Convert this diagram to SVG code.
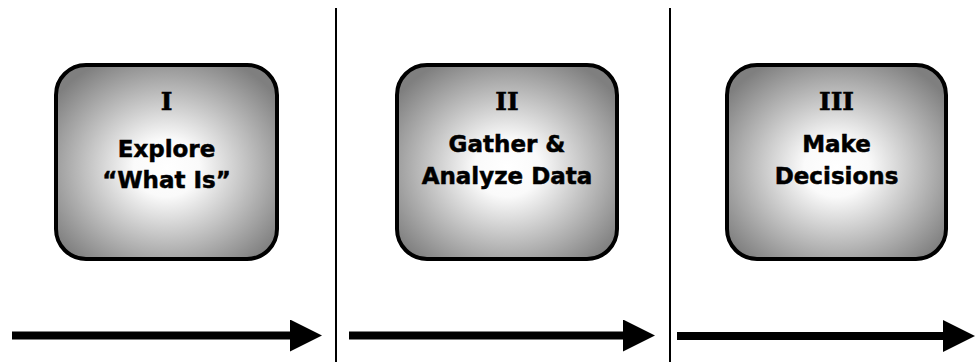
<svg xmlns="http://www.w3.org/2000/svg" width="976" height="362" viewBox="0 0 976 362">
  <defs>
    <radialGradient id="boxFill" cx="0.5" cy="0.53" r="0.62">
      <stop offset="0" stop-color="#ffffff"/>
      <stop offset="0.24" stop-color="#fafafa"/>
      <stop offset="1" stop-color="#7f7f7f"/>
    </radialGradient>
    <marker id="head" markerUnits="userSpaceOnUse" markerWidth="33" markerHeight="33" refX="0" refY="16" orient="auto" viewBox="0 0 33 33">
      <path d="M0,0 L32,16 L0,32 Z" fill="#000"/>
    </marker>
  </defs>
  <style>
    .box { fill: url(#boxFill); stroke: #000; stroke-width: 4; }
    .num { font-family: "DejaVu Serif", serif; font-weight: bold; font-size: 25px; text-anchor: middle; fill: #000; stroke: #000; stroke-width: 0.5; }
    .lbl { font-family: "DejaVu Sans", Verdana, sans-serif; font-weight: bold; font-size: 23px; text-anchor: middle; fill: #000; stroke: #000; stroke-width: 0.5; }
    .divider { stroke: #000; stroke-width: 2; }
    .arrow { stroke: #000; stroke-width: 8; fill: none; marker-end: url(#head); }
  </style>

  <rect width="976" height="362" fill="#fff"/>

  <!-- phase separators -->
  <line class="divider" x1="336" y1="8" x2="336" y2="362"/>
  <line class="divider" x1="670" y1="8" x2="670" y2="362"/>

  <g id="phase-1">
    <rect class="box" x="56" y="65" width="221" height="194" rx="30" ry="30"/>
    <text class="num" x="166.5" y="110">I</text>
    <text class="lbl" x="166.5" y="157">Explore</text>
    <text class="lbl" x="166.5" y="188">“What Is”</text>
  </g>

  <g id="phase-2">
    <rect class="box" x="397" y="65" width="220" height="194" rx="30" ry="30"/>
    <text class="num" x="507" y="110">II</text>
    <text class="lbl" x="507" y="152">Gather &amp;</text>
    <text class="lbl" x="507" y="184">Analyze Data</text>
  </g>

  <g id="phase-3">
    <rect class="box" x="727" y="65" width="219" height="194" rx="30" ry="30"/>
    <text class="num" x="836.5" y="110">III</text>
    <text class="lbl" x="836.5" y="152">Make</text>
    <text class="lbl" x="836.5" y="184">Decisions</text>
  </g>

  <g id="connectors">
    <line class="arrow" x1="12" y1="335.5" x2="290" y2="335.5"/>
    <line class="arrow" x1="349" y1="335.5" x2="623" y2="335.5"/>
    <line class="arrow" x1="677" y1="336" x2="943" y2="336"/>
  </g>
</svg>
